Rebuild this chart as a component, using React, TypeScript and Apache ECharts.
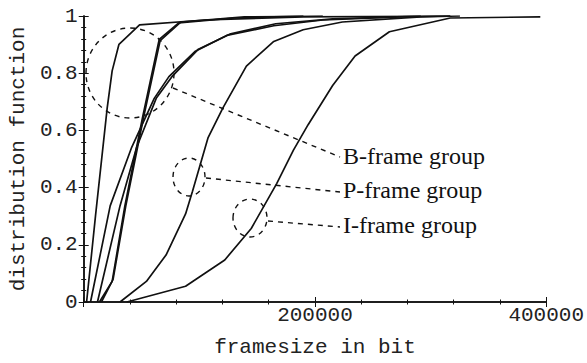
import { useEffect, useRef } from "react";
import * as echarts from "echarts";

// Cumulative distribution of frame sizes: [framesize in bit, F(x)]
const bGroupSteepest: number[][] = [
  [2500, 0], [10200, 0.301], [20300, 0.678], [24600, 0.808], [30500, 0.901],
  [48300, 0.969], [105000, 0.986], [190000, 0.997], [317000, 1.0],
];
const bGroupSteepA: number[][] = [
  [13600, 0], [24600, 0.072], [35600, 0.336], [50800, 0.644], [65300, 0.918],
  [82200, 0.976], [130500, 0.993], [190000, 1.0],
];
const bGroupSteepB: number[][] = [
  [15300, 0], [25400, 0.079], [36400, 0.336], [51700, 0.644], [66100, 0.914],
  [83900, 0.979], [139000, 0.997], [206800, 1.0],
];
const bGroupWideA: number[][] = [
  [5900, 0], [22900, 0.336], [41500, 0.541], [61000, 0.712], [73700, 0.788],
  [96600, 0.877], [123700, 0.932], [164400, 0.966], [206800, 0.986],
  [274600, 0.997], [317000, 1.0],
];
const bGroupWideB: number[][] = [
  [11900, 0], [31400, 0.336], [45800, 0.541], [62700, 0.712], [76300, 0.788],
  [99200, 0.884], [127100, 0.938], [166100, 0.973], [215300, 0.99], [291500, 1.0],
];
const pGroup: number[][] = [
  [31400, 0], [54200, 0.072], [71200, 0.164], [88100, 0.308], [94100, 0.387],
  [107600, 0.575], [120300, 0.678], [140700, 0.825], [164400, 0.911],
  [189800, 0.952], [223700, 0.979], [291500, 0.997], [325400, 1.0],
];
const iGroup: number[][] = [
  [37300, 0], [88100, 0.055], [122000, 0.147], [144900, 0.257], [166900, 0.414],
  [181400, 0.531], [194100, 0.62], [215300, 0.757], [234700, 0.86],
  [264400, 0.945], [317000, 0.993], [394900, 0.997],
];

const curves = [bGroupSteepest, bGroupSteepA, bGroupSteepB, bGroupWideA, bGroupWideB, pGroup, iGroup];

const groupLabels = ["B-frame group", "P-frame group", "I-frame group"];

const mono = "'Liberation Mono', 'DejaVu Sans Mono', monospace";
const serif = "'Liberation Serif', 'DejaVu Serif', serif";
const ink = "#111";
const textInk = "#222";

export default function App() {
  const ref = useRef<HTMLDivElement>(null);

  useEffect(() => {
    if (!ref.current) return;
    document.body.style.margin = "0";
    const chart = echarts.init(ref.current, null, { renderer: "svg" });

    const tickStyle = { show: true, inside: true, length: 5, lineStyle: { color: ink, width: 1 } };
    const minorStyle = { show: true, splitNumber: 5, length: 2.5, lineStyle: { color: ink, width: 1 } };
    const lineStyle = { show: true, lineStyle: { color: ink, width: 1.5 } };

    const dashed = { stroke: ink, fill: "none", lineWidth: 1.4, lineDash: [5, 5] };

    chart.setOption({
      animation: false,
      backgroundColor: "#fff",
      grid: { left: 76, right: 39, top: 16, bottom: 55, containLabel: false },
      xAxis: [
        {
          type: "value", min: 0, max: 400000, interval: 200000, position: "bottom",
          axisLine: lineStyle, axisTick: tickStyle, minorTick: minorStyle,
          splitLine: { show: false },
          axisLabel: {
            margin: 3, color: textInk, fontFamily: mono, fontSize: 21,
            formatter: (v: number) => (v === 0 ? "" : String(v)),
          },
          name: "framesize in bit", nameLocation: "middle", nameGap: 35,
          nameTextStyle: { color: textInk, fontFamily: mono, fontSize: 21 },
        },
        {
          type: "value", min: 0, max: 400000, interval: 200000, position: "top",
          axisLine: lineStyle, axisTick: tickStyle, minorTick: minorStyle,
          splitLine: { show: false }, axisLabel: { show: false },
        },
      ],
      yAxis: [
        {
          type: "value", min: 0, max: 1, interval: 0.2, position: "left",
          axisLine: lineStyle, axisTick: tickStyle, minorTick: minorStyle,
          splitLine: { show: false },
          axisLabel: { margin: 6, color: textInk, fontFamily: mono, fontSize: 21 },
          name: "distribution function", nameLocation: "middle", nameGap: 52,
          nameTextStyle: { color: textInk, fontFamily: mono, fontSize: 21 },
        },
        {
          type: "value", min: 0, max: 1, interval: 0.2, position: "right",
          axisLine: lineStyle, axisTick: tickStyle, minorTick: minorStyle,
          splitLine: { show: false }, axisLabel: { show: false },
        },
      ],
      series: curves.map((data) => ({
        type: "line",
        data,
        xAxisIndex: 0,
        yAxisIndex: 0,
        showSymbol: false,
        symbol: "none",
        lineStyle: { color: ink, width: 1.7 },
        silent: true,
      })),
      graphic: [
        // group outlines
        { type: "ellipse", shape: { cx: 130, cy: 73, rx: 44, ry: 45 }, style: dashed, z: 10 },
        { type: "ellipse", shape: { cx: 189, cy: 177, rx: 16, ry: 19 }, style: dashed, z: 10 },
        { type: "ellipse", shape: { cx: 250, cy: 218, rx: 17, ry: 19 }, style: dashed, z: 10 },
        // leaders
        { type: "line", shape: { x1: 173, y1: 88, x2: 340, y2: 157 }, style: dashed, z: 10 },
        { type: "line", shape: { x1: 206, y1: 178, x2: 340, y2: 192 }, style: dashed, z: 10 },
        { type: "line", shape: { x1: 268, y1: 221, x2: 340, y2: 227 }, style: dashed, z: 10 },
        // labels
        ...groupLabels.map((text, i) => ({
          type: "text",
          left: 343,
          top: [144, 178, 213][i],
          z: 11,
          style: { text, fill: ink, font: `24px ${serif}` },
        })),
      ],
    });

    return () => chart.dispose();
  }, []);

  return <div ref={ref} style={{ width: 587, height: 363 }} />;
}
